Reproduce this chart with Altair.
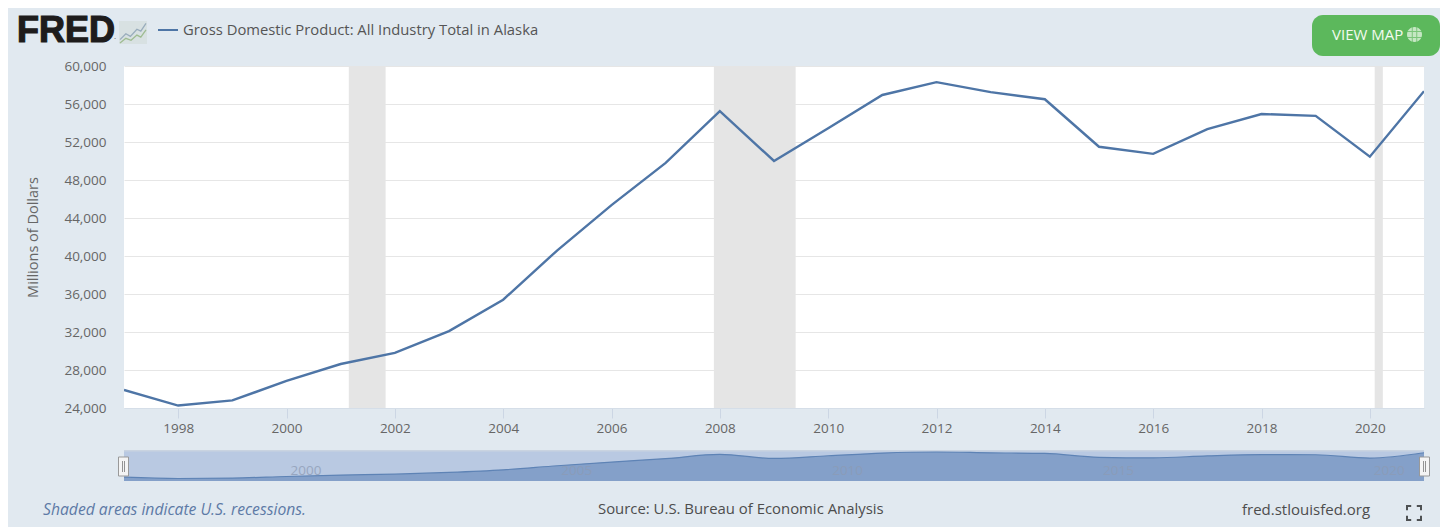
import altair as alt
import pandas as pd

# --- chart values ---
years = list(range(1997, 2022))
gdp = [25900, 24260, 24800, 26850, 28630, 29800, 32100, 35400, 40600, 45350, 49800, 55250,
       50000, 53450, 56950, 58300, 57250, 56500, 51500, 50750, 53350, 54950, 54750, 50450, 57350]
rec_start = [2001.15, 2007.89, 2020.09]
rec_end = [2001.83, 2009.40, 2020.24]
x_ticks = list(range(1998, 2021, 2))
y_ticks = list(range(24000, 60001, 4000))
nav_labels = [2000, 2005, 2010, 2015, 2020]

SANS = "Open Sans"
BG = "#e1e9f0"
LINE = "#4e75a6"
W, H = 1300, 342
OX, OY = 124, 66   # page position of plot origin
TOTAL_W, TOTAL_H = 1432, 519

df = pd.DataFrame({"year": years, "gdp": gdp})
df["base"] = 21050
rec = pd.DataFrame({"s": rec_start, "e": rec_end})
rec["top"] = 60000
rec["bot"] = 24000
one = alt.Data(values=[{"a": 1}])

xscale = alt.Scale(domain=[1997, 2021], nice=False, zero=False)
yscale = alt.Scale(domain=[24000, 60000], nice=False, zero=False)
navscale = alt.Scale(domain=[21050, 60860], range=[481 - OY, 450 - OY], nice=False, zero=False)


def px(v):
    return alt.value(v - OX)


def py(v):
    return alt.value(v - OY)


def label(txt, x, y, size=13, color="#555555", align="left", font=SANS, **kw):
    return alt.Chart(one).mark_text(align=align, baseline="middle", font=font, fontSize=size,
                                    color=color, **kw).encode(x=px(x), y=py(y), text=alt.value(txt))


def box(x1, x2, y1, y2, color, **kw):
    return alt.Chart(one).mark_rect(color=color, **kw).encode(x=px(x1), x2=px(x2), y=py(y1), y2=py(y2))


def glyph(path, x, y, extent, **kw):
    return alt.Chart(one).mark_point(shape=path, size=extent ** 2, **kw).encode(x=px(x), y=py(y))


x_axis = alt.Axis(values=x_ticks, format="d", title=None, grid=False, domainColor="#d5dee8", tickColor="#ccd6e4",
                  tickSize=10, labelFont=SANS, labelFontSize=13.5, labelColor="#666666", labelPadding=3,
                  labelFlush=False)

bands = alt.Chart(rec).mark_rect(color="#e5e5e5").encode(
    x=alt.X("s:Q", scale=xscale, axis=x_axis),
    x2="e:Q",
    y=alt.Y("top:Q", scale=yscale, axis=alt.Axis(
        values=y_ticks, format=",d", title="Millions of Dollars", grid=True, gridColor="#e6e6e6", domain=False,
        ticks=False, labelFont=SANS, labelFontSize=13.5, labelColor="#666666", labelPadding=18,
        titleFont=SANS, titleFontSize=14.5, titleFontWeight="normal", titleColor="#666666", titlePadding=23)),
    y2="bot:Q",
)

line = alt.Chart(df).mark_line(color=LINE, strokeWidth=2.4, clip=True).encode(
    x=alt.X("year:Q", scale=xscale),
    y=alt.Y("gdp:Q", scale=yscale, axis=None),
)

# navigator
nav_bg = box(124, 1424, 450, 481, "#b9c9e2")
nav_edge = box(124, 1424, 450, 451.5, "#c9d3e0")
nav_area = alt.Chart(df).mark_area(color="#84a0c9", opacity=1, interpolate="monotone",
                                   line={"color": "#5e83b5", "strokeWidth": 1.2}).encode(
    x=alt.X("year:Q", scale=xscale),
    y=alt.Y("gdp:Q", scale=navscale, axis=None, stack=None),
    y2="base:Q",
)
nav_text = alt.Chart(pd.DataFrame({"y": nav_labels})).mark_text(
    align="left", dx=4, baseline="middle", font=SANS, fontSize=13.5, color="#8d9bb4", opacity=0.75
).encode(x=alt.X("y:Q", scale=xscale), y=py(471), text=alt.Text("y:Q", format="d"))

handles = []
for c in (123.5, 1424.5):
    handles.append(box(c - 5, c + 5, 457, 476, "#f4f4f4", stroke="#999999", strokeWidth=1))
    handles.append(box(c - 1.5, c - 0.6, 461, 472, "#888888"))
    handles.append(box(c + 0.6, c + 1.5, 461, 472, "#888888"))

# header
logo = label("FRED", 17, 31, size=36, color="#1e1c1c", font="Liberation Sans", fontWeight="bold", stroke="#1e1c1c",
             strokeWidth=1.2)
logo_reg = label(".", 114, 37, size=8, color="#555555")
icon_bg = box(119, 147, 21, 44, "#d6dedf", opacity=0.8)
icon_a = glyph("M-1 0.55 L-0.55 0.1 L-0.2 0.3 L0.3 -0.25 L0.6 -0.1 L1 -0.7", 133, 32.5, 26, filled=False,
               stroke="#7f97ad", strokeWidth=1.3)
icon_b = glyph("M-1 0.8 L-0.55 0.45 L-0.15 0.6 L0.3 0.2 L0.6 0.35 L1 -0.2", 133, 32.5, 26, filled=False,
               stroke="#87ad70", strokeWidth=1.3)
legend_key = box(158, 178, 29, 31, LINE)
title = label("Gross Domestic Product: All Industry Total in Alaska", 183, 31, size=14.8, color="#555555")

# button
button = box(1312, 1440, 15, 56, "#5cb85c", cornerRadius=11)
button_txt = label("VIEW MAP", 1332, 35, size=15, color="#f2fbf0")
globe_c = glyph("M-1 0 A1 1 0 1 1 1 0 A1 1 0 1 1 -1 0 Z", 1414.5, 34.5, 15, filled=True, color="#f2fbf0")
globe_l = glyph("M-1 -0.4 L1 -0.4 M-1 0.4 L1 0.4 M-0.3 -1 L-0.3 1 M0.3 -1 L0.3 1", 1414.5, 34.5, 15, filled=False,
                stroke="#5cb85c", strokeWidth=1)

# footer
foot_a = label("Shaded areas indicate U.S. recessions.", 43, 510, size=15.7, color="#5d7aa6", fontStyle="italic")
foot_b = label("Source: U.S. Bureau of Economic Analysis", 598, 510, size=14.9, color="#4d4d4d")
foot_c = label("fred.stlouisfed.org", 1242, 510, size=15, color="#4d4d4d")
full = glyph("M-1 -0.4 L-1 -1 L-0.4 -1 M0.4 -1 L1 -1 L1 -0.4 M1 0.4 L1 1 L0.4 1 M-0.4 1 L-1 1 L-1 0.4", 1414, 513,
             14, filled=False, stroke="#111111", strokeWidth=2)

chart = alt.layer(
    bands, line, nav_bg, nav_edge, nav_area, nav_text, *handles,
    logo, logo_reg, icon_bg, icon_a, icon_b, legend_key, title,
    button, button_txt, globe_c, globe_l, foot_a, foot_b, foot_c, full,
).resolve_scale(y="independent").properties(
    width=W, height=H,
    padding={"left": OX - 8, "top": OY - 8, "right": TOTAL_W - (OX - 8) - W, "bottom": TOTAL_H - (OY - 8) - H},
    autosize=alt.AutoSizeParams(type="none"),
    background=BG,
).configure_view(fill="#ffffff", stroke=None)

chart.save("out.html", embed_options={"renderer": "svg", "actions": False})
